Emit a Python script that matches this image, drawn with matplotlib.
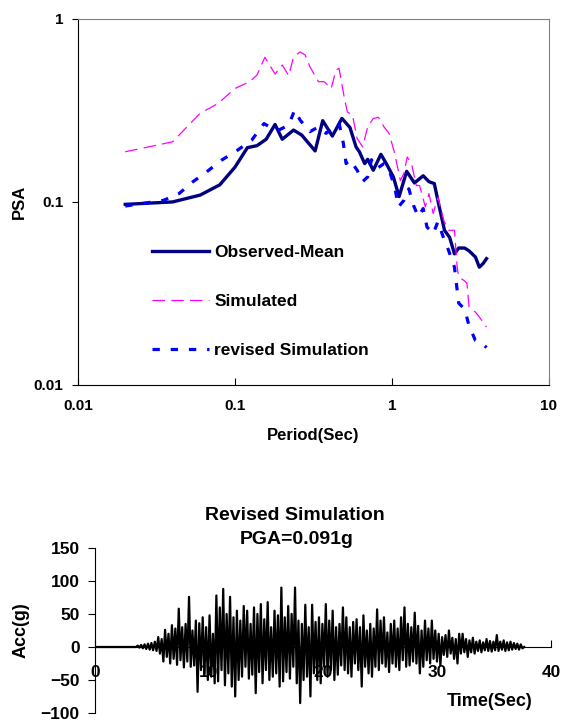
import numpy as np
import matplotlib
matplotlib.use("Agg")
import matplotlib.pyplot as plt

plt.rcParams['font.family'] = ['Liberation Sans', 'DejaVu Sans']
plt.rcParams['font.weight'] = 'bold'

# Response spectra (period in sec, PSA in g)
obs_period = [0.02, 0.04, 0.06, 0.08, 0.10, 0.12, 0.138, 0.158, 0.18, 0.20, 0.236, 0.266,
              0.324, 0.362, 0.417, 0.48, 0.54, 0.59, 0.62, 0.67, 0.70, 0.76, 0.85, 0.92,
              1.02, 1.11, 1.24, 1.39, 1.58, 1.72, 1.86, 2.0, 2.16, 2.33, 2.5, 2.66, 2.9,
              3.1, 3.4, 3.6, 3.8, 4.0]
obs_psa = [0.097, 0.100, 0.109, 0.124, 0.155, 0.198, 0.203, 0.220, 0.265, 0.220, 0.247, 0.232,
           0.190, 0.278, 0.229, 0.286, 0.255, 0.200, 0.188, 0.162, 0.171, 0.149, 0.182, 0.162,
           0.137, 0.107, 0.147, 0.127, 0.139, 0.129, 0.126, 0.094, 0.070, 0.064, 0.052, 0.056, 0.056,
           0.054, 0.050, 0.044, 0.046, 0.049]

sim_period = [0.02, 0.04, 0.06, 0.078, 0.10, 0.124, 0.138, 0.155, 0.18, 0.20, 0.22, 0.236,
              0.26, 0.28, 0.30, 0.34, 0.37, 0.41, 0.44, 0.46, 0.50, 0.52, 0.56, 0.60, 0.65,
              0.70, 0.76, 0.82, 0.89, 0.96, 1.04, 1.13, 1.19, 1.25, 1.33, 1.43, 1.50, 1.63,
              1.72, 1.83, 1.96, 2.14, 2.3, 2.5, 2.6, 2.66, 2.9, 3.0, 3.1, 3.4, 3.6, 4.0]
sim_psa = [0.188, 0.213, 0.305, 0.345, 0.417, 0.454, 0.493, 0.617, 0.50, 0.56, 0.49, 0.62,
           0.66, 0.635, 0.548, 0.454, 0.454, 0.417, 0.526, 0.537, 0.36, 0.31, 0.298, 0.222, 0.20,
           0.257, 0.286, 0.29, 0.257, 0.236, 0.184, 0.131, 0.143, 0.176, 0.162, 0.123, 0.123, 0.094,
           0.111, 0.0865, 0.106, 0.079, 0.070, 0.070, 0.044, 0.039, 0.037, 0.036, 0.0266, 0.025, 0.0235, 0.0207]

rev_period = [0.02, 0.035, 0.044, 0.054, 0.066, 0.082, 0.104, 0.128, 0.153, 0.17, 0.19, 0.22,
              0.24, 0.26, 0.30, 0.34, 0.38, 0.43, 0.46, 0.49, 0.51, 0.54, 0.60, 0.65, 0.70,
              0.74, 0.80, 0.89, 0.96, 1.04, 1.10, 1.19, 1.28, 1.37, 1.47, 1.58, 1.67, 1.83,
              1.96, 2.14, 2.3, 2.5, 2.57, 2.66, 2.9, 3.1, 3.4, 3.8, 4.0]
rev_psa = [0.095, 0.102, 0.111, 0.129, 0.146, 0.169, 0.192, 0.218, 0.268, 0.254, 0.247, 0.263,
           0.318, 0.28, 0.242, 0.257, 0.237, 0.257, 0.27, 0.209, 0.162, 0.17, 0.149, 0.129, 0.137,
           0.17, 0.152, 0.162, 0.149, 0.121, 0.094, 0.102, 0.118, 0.096, 0.083, 0.092, 0.073, 0.067,
           0.078, 0.063, 0.054, 0.044, 0.036, 0.028, 0.026, 0.021, 0.0175, 0.0167, 0.016]

# Revised simulation acceleration time history (peaks, every 0.15 s from 3.6 s)
acc_start = 3.6
acc_step = 0.15
acc_peaks = [0, 2, -1, 3, -2, 4, -3, 5, -4, 6,
             -5, 8, -6, 15, -10, 12, -22, 26, -15, 20,
             -25, 33, -18, 28, -27, 58, -20, 30, -31, 35,
             -22, 76, -30, 25, -28, 40, -68, 36, -35, 45,
             -40, 30, -50, 48, -45, 20, -55, 78, -52, 60,
             -35, 88, -58, 50, -40, 76, -60, 45, -75, 55,
             -50, 40, -45, 62, -30, 55, -48, 35, -42, 60,
             -70, 50, -38, 65, -55, 42, -35, 68, -50, 30,
             -45, 55, -40, 48, -60, 90, -52, 45, -38, 62,
             -48, 50, -30, 90, -55, 40, -85, 35, -50, 64,
             -45, 30, -75, 64, -40, 38, -50, 45, -55, 35,
             -30, 65, -45, 40, -35, 55, -50, 30, -42, 35,
             -28, 60, -35, 45, -40, 30, -45, 38, -25, 42,
             -35, 30, -60, 48, -30, 25, -40, 35, -45, 28,
             -30, 57, -35, 40, -25, 45, -30, 22, -38, 35,
             -25, 40, -30, 28, -35, 45, -20, 60, -30, 35,
             -28, 30, -22, 52, -25, 32, -40, 25, -30, 40,
             -20, 28, -25, 40, -18, 25, -22, 20, -28, 15,
             -12, 18, -15, 25, -10, 14, -18, 12, -25, 20,
             -10, 20, -8, 12, -15, 10, -8, 14, -10, 8,
             -6, 10, -8, 7, -5, 12, -6, 9, -7, 8,
             -5, 18, -6, 8, -4, 10, -6, 7, -5, 8,
             -4, 6, -3, 5, -4, 4, -2, 0]

fig = plt.figure(figsize=(5.61, 7.22), dpi=100)

# ---- top: spectra ----
ax = fig.add_axes([0.139, 0.4668, 0.8396, 0.507])
ax.plot(obs_period, obs_psa, color='#000080', lw=2.4, label='Observed-Mean')
ax.plot(sim_period, sim_psa, color='#FF00FF', lw=0.9, dashes=(10, 5), label='Simulated')
ax.plot(rev_period, rev_psa, color='#0000FF', lw=2.3, dashes=(2.3, 3.4), label='revised Simulation')
ax.set_xscale('log')
ax.set_yscale('log')
ax.set_xlim(0.01, 10)
ax.set_ylim(0.01, 1)
ax.set_xticks([0.01, 0.1, 1, 10])
ax.set_xticklabels(['0.01', '0.1', '1', '10'])
ax.set_yticks([0.01, 0.1, 1])
ax.set_yticklabels(['0.01', '0.1', '1'])
ax.minorticks_off()
ax.tick_params(axis='x', direction='in', length=5, pad=10, labelsize=11)
ax.tick_params(axis='y', direction='out', length=4, pad=6.5, labelsize=11)
for s in ['top', 'right']:
    ax.spines[s].set_color('#808080')
ax.set_xlabel('Period(Sec)', fontsize=12, fontweight='bold', labelpad=11)
ax.set_ylabel('PSA', fontsize=12, fontweight='bold', labelpad=5)
ax.legend(loc='center left', bbox_to_anchor=(0.157, 0.227), frameon=False,
          fontsize=12.5, handlelength=3.3, handletextpad=0.3, labelspacing=1.95,
          borderpad=0, borderaxespad=0)

# ---- bottom: time history ----
t = np.concatenate([[0.0], acc_start + acc_step * np.arange(len(acc_peaks))])
acc = np.concatenate([[0.0], acc_peaks])
bx = fig.add_axes([0.1693, 0.0125, 0.8128, 0.2285])
bx.plot(t, acc, color='black', lw=1.6)
bx.set_xlim(0, 40)
bx.set_ylim(-100, 150)
bx.set_xticks([0, 10, 20, 30, 40])
bx.set_yticks([-100, -50, 0, 50, 100, 150])
bx.spines['top'].set_visible(False)
bx.spines['right'].set_visible(False)
bx.spines['bottom'].set_position(('data', 0))
bx.tick_params(axis='x', direction='in', length=5, pad=13, labelsize=12.5)
bx.tick_params(axis='y', direction='out', length=5, pad=6, labelsize=12.5)
bx.set_ylabel('Acc(g)', fontsize=13, fontweight='bold', labelpad=8)

fig.text(295 / 561, 1 - 515 / 722, 'Revised Simulation', ha='center', va='center',
         fontsize=14, fontweight='bold')
fig.text(297 / 561, 1 - 540 / 722, 'PGA=0.091g', ha='center', va='center',
         fontsize=14, fontweight='bold')
fig.text(490 / 561, 1 - 702 / 722, 'Time(Sec)', ha='center', va='center',
         fontsize=13, fontweight='bold')

fig.savefig('out.png', dpi=100)
